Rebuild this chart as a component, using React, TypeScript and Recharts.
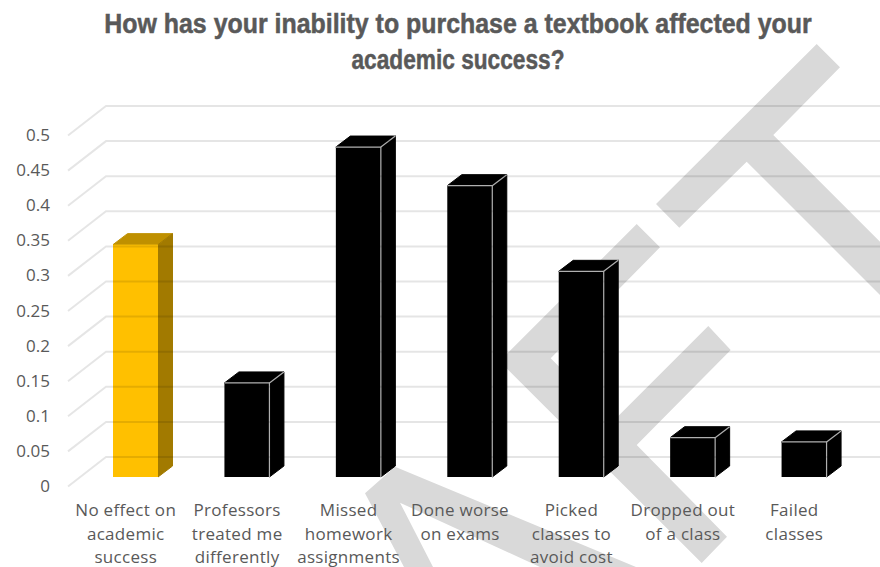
import { Bar, BarChart, XAxis, YAxis } from "recharts";

const categories = [
  "No effect on\nacademic\nsuccess",
  "Professors\ntreated me\ndifferently",
  "Missed\nhomework\nassignments",
  "Done worse\non exams",
  "Picked\nclasses to\navoid cost",
  "Dropped out\nof a class",
  "Failed\nclasses",
];
const shares = [0.331, 0.134, 0.47, 0.415, 0.293, 0.056, 0.05];
const yTicks = [0, 0.05, 0.1, 0.15, 0.2, 0.25, 0.3, 0.35, 0.4, 0.45, 0.5];
const titleLines = ["How has your inability to purchase a textbook affected  your", "academic success?"];

const data = categories.map((name, i) => ({ name, share: shares[i] }));

const TEXT = "#595959";
const FONT = "'Open Sans', sans-serif";

// "DRAFT" watermark that sits behind the chart
const watermark = [
  "816.7,44 840,67.3 773.3,135 880,241.7 880,295 746.7,161.7 679.3,227.7 656,204",
  "636.7,224 660,247.3 550.7,358.3 613.3,421 708.3,326 730.7,350 636.7,445 727,536.7 701.7,563 499.5,361.2",
  "365,493.3 395,466.7 636,567 540,567 400,502.7 433,567 404,567",
];

// the 3d look: back wall offset for gridlines, floor offset for the front edge
function GridTick({ y, payload }: any) {
  return (
    <g>
      <polyline
        points={`68,${y + 9.5} 106,${y - 20} 880,${y - 20}`}
        fill="none"
        stroke="#000"
        strokeOpacity={0.1}
        strokeWidth={2}
      />
      <text x={50} y={y + 15} textAnchor="end" fontSize={17} fontFamily={FONT} fill={TEXT}>
        {payload.value}
      </text>
    </g>
  );
}

function CategoryTick({ x, payload }: any) {
  const lines = String(payload.value).split("\n");
  return (
    <text textAnchor="middle" fontSize={17} letterSpacing={0.3} fontFamily={FONT} fill={TEXT}>
      {lines.map((line, i) => (
        <tspan key={line} x={x - 10} y={516 + i * 23.5}>
          {line}
        </tspan>
      ))}
    </text>
  );
}

function Box3d({ x, y, width, height, index }: any) {
  const dx = 14.5;
  const dy = -11;
  const highlighted = index === 0;
  const r = x + width;
  const b = y + height;
  const edge = highlighted ? "none" : "#b0b0b0";
  return (
    <g>
      <polygon
        points={`${x},${y} ${x + dx},${y + dy} ${r + dx},${y + dy} ${r},${y}`}
        fill={highlighted ? "#BF9000" : "#000"}
        stroke={highlighted ? "#BF9000" : "#000"}
      />
      <polygon
        points={`${r},${y} ${r + dx},${y + dy} ${r + dx},${b + dy} ${r},${b}`}
        fill={highlighted ? "#A27A00" : "#000"}
        stroke={highlighted ? "#A27A00" : "#000"}
      />
      <rect x={x} y={y} width={width} height={height} fill={highlighted ? "#FFC000" : "#000"} />
      <polyline points={`${x},${y} ${r},${y} ${r},${b}`} fill="none" stroke={edge} strokeWidth={1.2} />
      <line x1={r} y1={y} x2={r + dx} y2={y + dy} stroke={edge} strokeWidth={1.2} />
    </g>
  );
}

export default function App() {
  return (
    <div style={{ position: "absolute", left: 0, top: 0, width: 880, height: 567, overflow: "hidden", background: "#fff" }}>
      <svg width={880} height={567} style={{ position: "absolute", left: 0, top: 0 }}>
        {watermark.map((points) => (
          <polygon key={points} points={points} fill="#d9d9d9" />
        ))}
        <g
          fontFamily="'Liberation Sans', sans-serif"
          fontWeight="bold"
          fontSize={28}
          fill={TEXT}
          stroke={TEXT}
          strokeWidth={0.5}
          textAnchor="middle"
        >
          <text transform="translate(458,33) scale(0.89,1)">{titleLines[0]}</text>
          <text transform="translate(458,69) scale(0.81,1)">{titleLines[1]}</text>
        </g>
      </svg>
      <div style={{ position: "absolute", left: 0, top: 0 }}>
        <BarChart width={880} height={567} data={data} margin={{ top: 126, right: 20, bottom: 0, left: 0 }}>
          <YAxis
            width={80}
            domain={[0, 0.5]}
            ticks={yTicks}
            interval={0}
            axisLine={false}
            tickLine={false}
            tick={<GridTick />}
          />
          <XAxis dataKey="name" height={90} interval={0} axisLine={false} tickLine={false} tick={<CategoryTick />} />
          <Bar dataKey="share" barSize={45} shape={<Box3d />} isAnimationActive={false} />
        </BarChart>
      </div>
    </div>
  );
}
